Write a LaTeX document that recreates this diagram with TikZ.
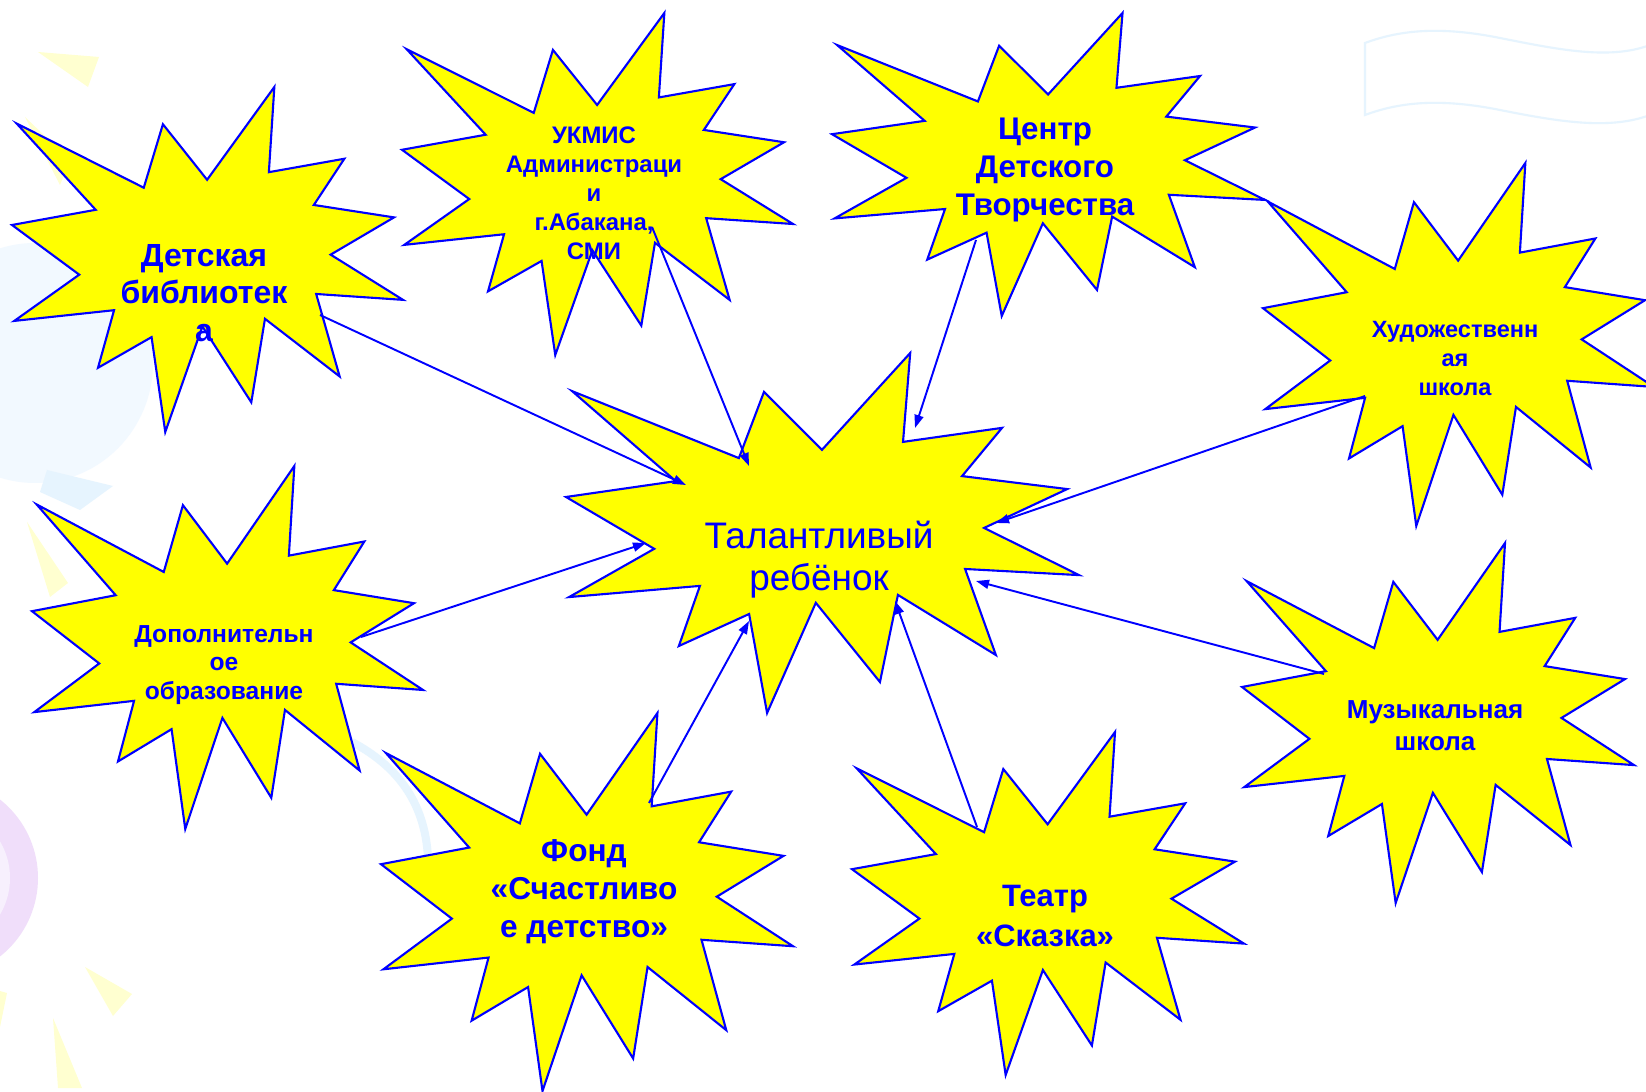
\documentclass[tikz,border=0pt]{standalone}
\usepackage{fontspec}
\setmainfont{Liberation Sans}
\usepackage{xcolor}
\usepackage{tikz}
\usetikzlibrary{arrows.meta}

\definecolor{burstyellow}{RGB}{255,255,0}
\definecolor{burstblue}{RGB}{0,0,255}
\definecolor{paleyellow}{RGB}{255,255,208}
\definecolor{paleblue}{RGB}{242,249,255}
\definecolor{palebluebis}{RGB}{230,244,254}
\definecolor{lilac}{RGB}{240,222,250}
\definecolor{palelilac}{RGB}{247,240,253}

\tikzset{
	burst/.style={draw=burstblue,fill=burstyellow,line width=0.6pt,line join=miter},
	link/.style={draw=burstblue,line width=0.55pt,-{Triangle[length=1.3mm,width=0.9mm]}},
	lbl/.style 2 args={text=burstblue,align=center,inner sep=0pt,font=\bfseries\fontsize{#1}{#2}\selectfont},
	childlbl/.style={text=burstblue,align=center,inner sep=0pt,font=\fontsize{10.5}{12}\selectfont}
}

\newcommand{\drawburst}[4]{%
	\begin{scope}[shift={(#1,#2)},xscale=#3,yscale=#4]
		\draw[burst] (0.012,0.106) -- (0.337,0.292) -- (0.386,0.108) -- (0.499,0.269) -- (0.671,0) -- (0.657,0.247) -- (0.850,0.208) -- (0.772,0.342) -- (0.977,0.378) -- (0.815,0.486) -- (1,0.617) -- (0.778,0.600) -- (0.838,0.839) -- (0.647,0.672) -- (0.612,0.914) -- (0.487,0.694) -- (0.392,1) -- (0.357,0.725) -- (0.220,0.814) -- (0.261,0.647) -- (0.006,0.678) -- (0.172,0.544) -- (0,0.4) -- (0.214,0.356) -- cycle;
	\end{scope}}

\begin{document}
\begin{tikzpicture}[x=0.01cm,y=-0.01cm]
	\clip (0,0) rectangle (1646,1092);
	\fill[white] (0,0) rectangle (1646,1092);
	
	\fill[paleblue] (35,363) ellipse [x radius=118, y radius=120];
	\fill[palebluebis] (47,470) -- (113,486) -- (80,510) -- (40,492) -- cycle;
	\fill[lilac] (-62,878) circle [radius=100];
	\fill[palelilac] (-62,878) circle [radius=72];
	\draw[palebluebis,line width=0.08cm] (352,742) .. controls (395,765) and (425,800) .. (428,858);
	\draw[palebluebis,line width=0.6pt] (1650,45) .. controls (1610,60) and (1560,50) .. (1500,38) .. controls (1440,26) and (1400,30) .. (1365,43) -- (1365,115) .. controls (1400,102) and (1440,98) .. (1500,110) .. controls (1560,122) and (1610,130) .. (1650,115);
	\fill[paleyellow] (38,52) -- (99,57) -- (88,87) -- cycle;
	\fill[paleyellow] (25,117) -- (70,160) -- (60,185) -- cycle;
	\fill[paleyellow] (27,522) -- (68,583) -- (50,597) -- cycle;
	\fill[paleyellow] (85,967) -- (132,994) -- (113,1016) -- cycle;
	\fill[paleyellow] (53,1018) -- (82,1088) -- (58,1088) -- cycle;
	\fill[paleyellow] (0,991) -- (7,993) -- (0,1027) -- cycle;
	
	\drawburst{12}{87}{391}{345}
	\drawburst{402}{13}{391}{342}
	\drawburst{832}{13}{433}{303}
	\drawburst{1263}{163}{391}{363}
	\drawburst{32}{466}{391}{363}
	\drawburst{566}{353}{513}{360}
	\drawburst{381}{713}{412}{378}
	\drawburst{852}{732}{392}{343}
	\drawburst{1242}{543}{392}{360}
	
	\node[lbl={9.1}{10.7}] (bib) at (204,293) {Детская\\библиотек\\а};
	\node[lbl={6.8}{8.25}] (ukmis) at (594,193) {УКМИС\\Администраци\\и\\г.Абакана,\\СМИ};
	\node[lbl={8.9}{10.8}] (cdt) at (1045,170) {Центр\\Детского\\Творчества};
	\node[lbl={6.7}{8.25}] (art) at (1455,359) {Художественн\\ая\\школа};
	\node[lbl={7}{8.1}] (dop) at (224,665) {Дополнительн\\ое\\образование};
	\node[childlbl] (child) at (819,560) {Талантливый\\ребёнок};
	\node[lbl={9}{10.8}] (fond) at (584,892) {Фонд\\«Счастливо\\е детство»};
	\node[lbl={8.8}{11.1}] (teatr) at (1045,916) {Театр\\«Сказка»};
	\node[lbl={7.4}{9.1}] (music) at (1435,726) {Музыкальная\\школа};
	
	\coordinate (bib-out) at (320,315);
	\coordinate (ukmis-out) at (652,227);
	\coordinate (cdt-out) at (976,240);
	\coordinate (art-out) at (1365,396);
	\coordinate (music-out) at (1324,674);
	\coordinate (teatr-out) at (977,827);
	\coordinate (fond-out) at (649,803);
	\coordinate (dop-out) at (361,637);
	\coordinate (child-bib) at (686,485);
	\coordinate (child-ukmis) at (749,466);
	\coordinate (child-cdt) at (915,428);
	\coordinate (child-art) at (996,523);
	\coordinate (child-music) at (976,581);
	\coordinate (child-teatr) at (895,601);
	\coordinate (child-fond) at (749,621);
	\coordinate (child-dop) at (646,543);
	
	\draw[link] (bib-out) -- (child-bib);
	\draw[link] (ukmis-out) -- (child-ukmis);
	\draw[link] (cdt-out) -- (child-cdt);
	\draw[link] (art-out) -- (child-art);
	\draw[link] (music-out) -- (child-music);
	\draw[link] (teatr-out) -- (child-teatr);
	\draw[link] (fond-out) -- (child-fond);
	\draw[link] (dop-out) -- (child-dop);
\end{tikzpicture}
\end{document}
